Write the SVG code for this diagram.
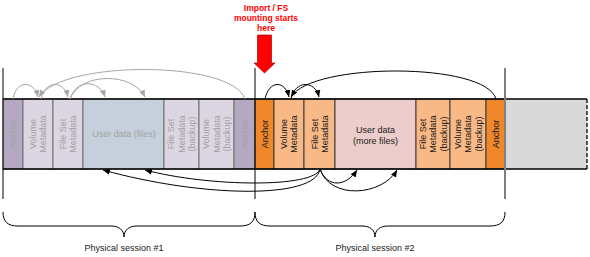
<svg xmlns="http://www.w3.org/2000/svg" width="590" height="257" viewBox="0 0 590 257">
<style>
text{font-family:"Liberation Sans",Arial,sans-serif;font-size:9px}
.t1{fill:#a3a3a3}
.t2{fill:#1a1a1a}
.c1{stroke:#6f6f6f;stroke-width:1}
.c2{stroke:#3a3a3a;stroke-width:1}
.r{text-anchor:middle;dominant-baseline:central}
.g{fill:none;stroke:#a6a6a6;stroke-width:1}
.k{fill:none;stroke:#000;stroke-width:1}
.red{fill:#ff0000;font-weight:bold;font-size:8.5px;text-anchor:middle}
</style>
<defs>
<marker id="ag" markerUnits="userSpaceOnUse" markerWidth="8" markerHeight="6" refX="7" refY="3" orient="auto"><path d="M0,0 L7,3 L0,6 z" fill="#a6a6a6"/></marker>
<marker id="ak" markerUnits="userSpaceOnUse" markerWidth="8" markerHeight="6" refX="7" refY="3" orient="auto"><path d="M0,0 L7,3 L0,6 z" fill="#000"/></marker>
</defs>
<rect width="590" height="257" fill="#fff"/>

<g id="s1-anchor"><rect x="3" y="99" width="20" height="70" fill="#b4a8c3" class="c1"/><text class="r t1" transform="translate(13,134) rotate(-90)">Anchor</text></g>
<g id="s1-volmeta"><rect x="23" y="99" width="30" height="70" fill="#dcd6e2" class="c1"/><text class="r t1" transform="translate(38,134) rotate(-90)"><tspan x="0" y="-5">Volume</tspan><tspan x="0" y="5">Metadata</tspan></text></g>
<g id="s1-fsmeta"><rect x="53" y="99" width="30" height="70" fill="#dcd6e2" class="c1"/><text class="r t1" transform="translate(68,134) rotate(-90)"><tspan x="0" y="-5">File Set</tspan><tspan x="0" y="5">Metadata</tspan></text></g>
<g id="s1-userdata"><rect x="83" y="99" width="81" height="70" fill="#c5d0dc" class="c1"/><text class="t1" x="124" y="137" text-anchor="middle">User data (files)</text></g>
<g id="s1-fsbackup"><rect x="164" y="99" width="35" height="70" fill="#dcd6e2" class="c1"/><text class="r t1" transform="translate(181.5,134) rotate(-90)"><tspan x="0" y="-10.5">File Set</tspan><tspan x="0" y="0">Metadata</tspan><tspan x="0" y="10.5">(backup)</tspan></text></g>
<g id="s1-volbackup"><rect x="199" y="99" width="35" height="70" fill="#dcd6e2" class="c1"/><text class="r t1" transform="translate(216.5,134) rotate(-90)"><tspan x="0" y="-10.5">Volume</tspan><tspan x="0" y="0">Metadata</tspan><tspan x="0" y="10.5">(backup)</tspan></text></g>
<g id="s1-anchor2"><rect x="234" y="99" width="21" height="70" fill="#b4a8c3" class="c1"/><text class="r t1" transform="translate(244.5,134) rotate(-90)">Anchor</text></g>

<g id="s2-anchor"><rect x="255" y="99" width="19" height="70" fill="#f0872b" class="c2"/><text class="r t2" transform="translate(264.5,134) rotate(-90)">Anchor</text></g>
<g id="s2-volmeta"><rect x="274" y="99" width="30" height="70" fill="#f9b987" class="c2"/><text class="r t2" transform="translate(289,134) rotate(-90)"><tspan x="0" y="-5">Volume</tspan><tspan x="0" y="5">Metadata</tspan></text></g>
<g id="s2-fsmeta"><rect x="304" y="99" width="31" height="70" fill="#f9b987" class="c2"/><text class="r t2" transform="translate(319.5,134) rotate(-90)"><tspan x="0" y="-5">File Set</tspan><tspan x="0" y="5">Metadata</tspan></text></g>
<g id="s2-userdata"><rect x="335" y="99" width="81" height="70" fill="#eccdcc" class="c2"/><text class="t2" text-anchor="middle"><tspan x="375.5" y="133">User data</tspan><tspan x="375.5" y="144">(more files)</tspan></text></g>
<g id="s2-fsbackup"><rect x="416" y="99" width="34" height="70" fill="#f9b987" class="c2"/><text class="r t2" transform="translate(433,134) rotate(-90)"><tspan x="0" y="-10.5">File Set</tspan><tspan x="0" y="0">Metadata</tspan><tspan x="0" y="10.5">(backup)</tspan></text></g>
<g id="s2-volbackup"><rect x="450" y="99" width="36" height="70" fill="#f9b987" class="c2"/><text class="r t2" transform="translate(468,134) rotate(-90)"><tspan x="0" y="-10.5">Volume</tspan><tspan x="0" y="0">Metadata</tspan><tspan x="0" y="10.5">(backup)</tspan></text></g>
<g id="s2-anchor2"><rect x="486" y="99" width="19" height="70" fill="#f0872b" class="c2"/><text class="r t2" transform="translate(495.5,134) rotate(-90)">Anchor</text></g>

<g id="free-space"><rect x="505" y="99" width="82" height="70" fill="#d9d9d9"/><line x1="587" y1="99" x2="587" y2="169" stroke="#000" stroke-width="1.3" stroke-dasharray="4,2"/></g>

<g id="strip-border" stroke="#000" stroke-width="1.3">
<line x1="3" y1="99" x2="587" y2="99"/>
<line x1="3" y1="169" x2="587" y2="169"/>
</g>

<g id="dividers">
<line x1="3" y1="68" x2="3" y2="199" stroke="#000" stroke-width="1"/>
<line x1="255" y1="68" x2="255" y2="199" stroke="#000" stroke-width="1"/>
<line x1="505" y1="68" x2="505" y2="199" stroke="#808080" stroke-width="2"/>
</g>

<g id="connectors">
<path class="g" marker-end="url(#ag)" d="M13,99 C16,80 34,80 38,97"/>
<path class="g" marker-end="url(#ag)" d="M41,99 C45,80 64,80 68,97"/>
<path class="g" marker-end="url(#ag)" d="M70,99 C76,79 99,79 105,97"/>
<path class="g" marker-end="url(#ag)" d="M70,99 C80,72 133,72 145,97"/>
<path class="g" marker-end="url(#ag)" d="M245,99 C232,60 62,60 39,97"/>
<path class="k" marker-end="url(#ak)" d="M265,99 C269,80 285,80 289,97"/>
<path class="k" marker-end="url(#ak)" d="M291,99 C295,80 315,80 319,97"/>
<path class="k" marker-end="url(#ak)" d="M496,99 C486,62 312,62 291,97"/>
<path class="k" marker-end="url(#ak)" d="M320,169 C315,200 200,197 103,170"/>
<path class="k" marker-end="url(#ak)" d="M320,169 C314,188 210,187 145,170"/>
<path class="k" marker-end="url(#ak)" d="M320,169 C327,188 346,187 357,170"/>
<path class="k" marker-end="url(#ak)" d="M320,169 C330,200 382,196 397,170"/>
</g>

<g id="start-marker">
<polygon points="257.5,35 271.5,35 271.5,63 275,63 264.5,73 254,63 257.5,63" fill="#ff0000" stroke="#b00000" stroke-width="0.7"/>
<text class="red"><tspan x="266" y="11">Import / FS</tspan><tspan x="266" y="21">mounting starts</tspan><tspan x="266" y="31">here</tspan></text>
</g>

<g id="session1-brace">
<path class="k" d="M3,212 C3,222 8,226 18,226 L111,226 C119,226 124,230 124,237 C124,230 129,226 137,226 L240,226 C250,226 255,222 255,212"/>
<text x="124" y="251" text-anchor="middle" fill="#1a1a1a">Physical session #1</text>
</g>
<g id="session2-brace">
<path class="k" d="M255,212 C255,222 260,226 270,226 L362,226 C370,226 375,230 375,237 C375,230 380,226 388,226 L490,226 C500,226 505,222 505,212"/>
<text x="375" y="251" text-anchor="middle" fill="#1a1a1a">Physical session #2</text>
</g>
</svg>
